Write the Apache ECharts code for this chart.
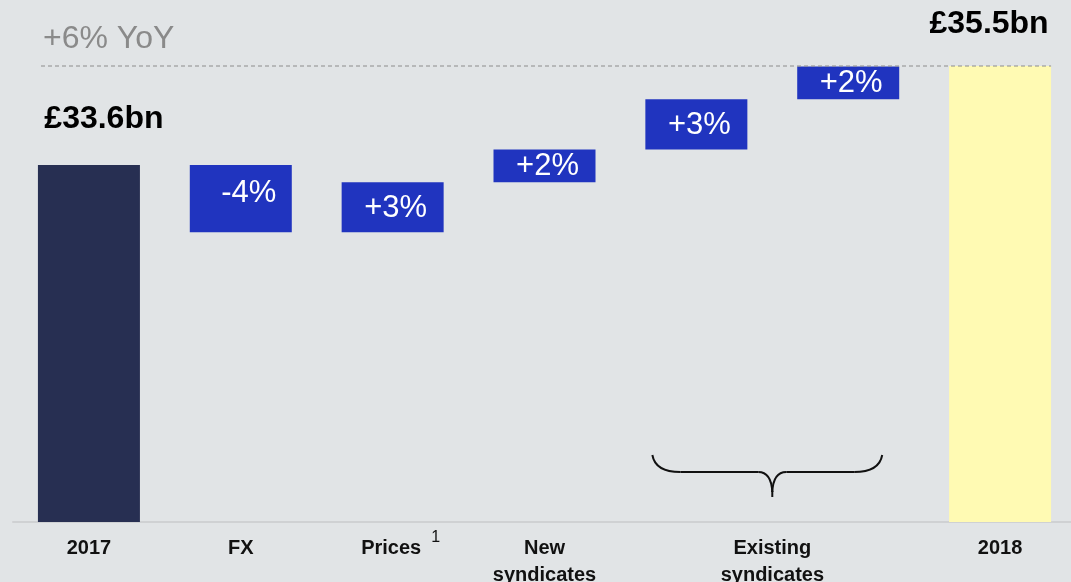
<!DOCTYPE html>
<html>
<head>
<meta charset="utf-8">
<script src="https://cdn.jsdelivr.net/npm/echarts@6/dist/echarts.min.js"></script>
<style>
html,body{margin:0;padding:0;background:#e1e4e6;}
#chart{width:1071px;height:582px;}
</style>
</head>
<body>
<div id="chart"></div>
<script>
// ---- data ----
const categories = ['2017', 'FX', 'Prices', 'New syndicates', 'Existing syndicates A', 'Existing syndicates B', '2018'];
const tickLabels = ['2017', 'FX', '{pr|Prices}{sup|1}', '{l1|New}\n{l2|syndicates}', '{ex1|Existing}\n{ex2|syndicates}', '', '2018'];
const startValue = 33.6;   // £bn, 2017
const endValue = 35.5;     // £bn, 2018
const changes = [-1.29, 0.96, 0.63, 0.96, 0.63]; // £bn steps
const changeLabels = ['-4%', '+3%', '+2%', '+3%', '+2%'];
const startLabel = '£33.6bn';
const endLabel = '£35.5bn';
const yoyLabel = '+6% YoY';

// ---- build waterfall ----
const FONT = '"Liberation Sans", Arial, Helvetica, sans-serif';
const baseVals = [0];
const barVals = [startValue];
let running = startValue;
changes.forEach(d => {
  if (d < 0) { running += d; baseVals.push(running); barVals.push(-d); }
  else { baseVals.push(running); barVals.push(d); running += d; }
});
baseVals.push(0);
barVals.push(endValue);

const visibleData = barVals.map((v, i) => {
  if (i === 0) {
    return { value: v, itemStyle: { color: '#272f52' },
      label: { show: true, position: 'top', distance: 30, offset: [15, 0], formatter: startLabel,
        color: '#000', fontSize: 32, fontWeight: 'bold', fontFamily: FONT } };
  }
  if (i === barVals.length - 1) {
    return { value: v, itemStyle: { color: '#fffab3' },
      label: { show: true, position: 'top', distance: 26, offset: [-11, 0], formatter: endLabel,
        color: '#000', fontSize: 32, fontWeight: 'bold', fontFamily: FONT } };
  }
  const off = changes[i - 1] < 0 ? [8, -5] : [3, 1];
  return { value: v, itemStyle: { color: '#2034bf' },
    label: { show: true, position: 'inside', offset: off, formatter: changeLabels[i - 1],
      color: '#fff', fontSize: 31, fontFamily: FONT } };
});

const B = { fontSize: 20, fontWeight: 'bold', color: '#111', fontFamily: FONT };
const chart = echarts.init(document.getElementById('chart'), null, { renderer: 'canvas' });
chart.setOption({
  backgroundColor: '#e1e4e6',
  animation: false,
  grid: { left: 13, width: 1063, top: 66, bottom: 60, outerBoundsMode: 'none', containLabel: false },
  xAxis: {
    type: 'category',
    data: categories,
    axisTick: { show: false },
    axisLine: { lineStyle: { color: '#cfd1d3', width: 2 } },
    axisLabel: {
      interval: 0,
      margin: 8,
      color: '#111',
      fontSize: 20,
      fontWeight: 'bold',
      lineHeight: 36,
      fontFamily: FONT,
      formatter: (v, idx) => tickLabels[idx],
      rich: {
        pr: Object.assign({}, B, { lineHeight: 36, padding: [0, 0, 0, 16] }),
        sup: { fontSize: 16, fontWeight: 'normal', color: '#111', fontFamily: FONT, verticalAlign: 'top', lineHeight: 16, padding: [0, 0, 0, 10] },
        l1: Object.assign({}, B, { lineHeight: 36 }),
        l2: Object.assign({}, B, { lineHeight: 18 }),
        ex1: Object.assign({}, B, { lineHeight: 36, padding: [0, 0, 0, 152] }),
        ex2: Object.assign({}, B, { lineHeight: 18, padding: [0, 0, 0, 152] })
      }
    }
  },
  yAxis: { type: 'value', min: 26.75, max: 35.5, show: false, splitLine: { show: false } },
  series: [
    { name: 'base', type: 'bar', stack: 'w', barWidth: 102, data: baseVals,
      itemStyle: { color: 'transparent' }, silent: true },
    { name: 'value', type: 'bar', stack: 'w', barWidth: 102, data: visibleData }
  ]
});

// ---- decorations placed from the axes ----
const yTop = chart.convertToPixel({ yAxisIndex: 0 }, endValue);
const yBase = chart.convertToPixel({ yAxisIndex: 0 }, 26.75);
const xLast = chart.convertToPixel({ xAxisIndex: 0 }, categories[6]) + 51;
const xE1 = chart.convertToPixel({ xAxisIndex: 0 }, categories[4]);
const xE2 = chart.convertToPixel({ xAxisIndex: 0 }, categories[5]);
const xm = (xE1 + xE2) / 2;
const L = xE1 - 44, R = xE2 + 34;
const yEnd = yBase - 67, yMid = yBase - 50, yTip = yBase - 25;
const braceStyle = { stroke: '#111', lineWidth: 2, fill: null };

chart.setOption({
  graphic: [
    { type: 'line', shape: { x1: 41, y1: yTop, x2: xLast, y2: yTop },
      style: { stroke: '#8c8c8c', lineWidth: 1, lineDash: [4, 3] }, z: 10 },
    { type: 'text', style: { text: yoyLabel, x: 43, y: 39, verticalAlign: 'middle',
      font: '32px ' + FONT, fill: '#8a8a8a' } },
    { type: 'bezierCurve', shape: { x1: L, y1: yEnd, x2: L + 28, y2: yMid, cpx1: L + 3, cpy1: yMid }, style: braceStyle },
    { type: 'line', shape: { x1: L + 28, y1: yMid, x2: xm - 14, y2: yMid }, style: braceStyle },
    { type: 'bezierCurve', shape: { x1: xm - 14, y1: yMid, x2: xm, y2: yTip - 5, cpx1: xm - 1, cpy1: yMid }, style: braceStyle },
    { type: 'line', shape: { x1: xm, y1: yTip - 6, x2: xm, y2: yTip }, style: braceStyle },
    { type: 'bezierCurve', shape: { x1: xm, y1: yTip - 5, x2: xm + 14, y2: yMid, cpx1: xm + 1, cpy1: yMid }, style: braceStyle },
    { type: 'line', shape: { x1: xm + 14, y1: yMid, x2: R - 28, y2: yMid }, style: braceStyle },
    { type: 'bezierCurve', shape: { x1: R - 28, y1: yMid, x2: R, y2: yEnd, cpx1: R - 3, cpy1: yMid }, style: braceStyle }
  ]
});
</script>
</body>
</html>
